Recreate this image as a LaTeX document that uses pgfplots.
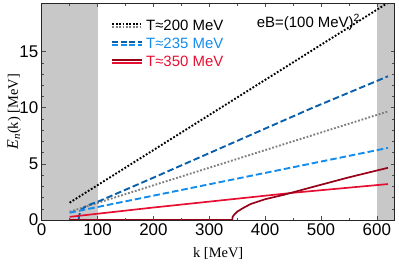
\documentclass[border=0pt]{standalone}
\usepackage{pgfplots}
\pgfplotsset{compat=1.18}
\usepackage{fontspec}
\setmainfont{Liberation Sans}
\newfontfamily\serif{Liberation Serif}
\definecolor{dblue}{RGB}{10,95,170}
\definecolor{lblue}{RGB}{20,140,235}
\definecolor{dred}{RGB}{150,0,25}
\definecolor{lred}{RGB}{230,15,50}
\definecolor{band}{RGB}{200,200,200}
\definecolor{dgray}{RGB}{128,128,128}
\begin{document}
\begin{tikzpicture}
\useasboundingbox (-41.7bp,-44bp) rectangle (357.3bp,220bp);
\begin{axis}[
  at={(0,0)}, anchor=origin,
  scale only axis, width=353bp, height=216.7bp,
  xmin=0, xmax=632, ymin=0, ymax=19.3,
  xtick={0,100,...,600}, ytick={0,5,10,15},
  minor x tick num=1, minor y tick num=4,
  tick align=inside, major tick length=4bp, minor tick length=2.5bp,
  axis on top,
  axis line style={line width=1pt, black!85},
  tick style={black!70, line width=0.5pt},
  tick label style={font=\fontsize{17}{17}\selectfont},
  /pgf/number format/assume math mode=true,
  xlabel={\serif k [MeV]},
  ylabel={\serif{\fontsize{16}{16}\selectfont\textit{E}}\raisebox{-0.35ex}{\fontsize{11}{11}\selectfont\textit{n}}(k) [MeV]},
  label style={font=\fontsize{14.5}{14.5}\selectfont},
  xlabel style={at={(axis description cs:0.5,0)}, anchor=base, yshift=-37bp},
  ylabel style={at={(axis description cs:0,0.5)}, anchor=center, rotate=0, yshift=27.5bp},
  legend style={at={(0.198,0.933)}, anchor=north west, draw=none, fill=none,
    font=\fontsize{15}{15}\selectfont, row sep=2bp, inner sep=0bp, outer sep=0bp,
    nodes={inner xsep=3bp}},
  legend cell align=left,
]
\addplot[fill=band, draw=none, forget plot] coordinates {(0,19.3) (100,19.3)} \closedcycle;
\addplot[fill=band, draw=none, forget plot] coordinates {(600,19.3) (632,19.3)} \closedcycle;

\addlegendimage{legend image code/.code={
  \draw[black, line width=1.8bp, dash pattern=on 1.8bp off 1.6bp] (0cm,1.5bp) -- (1.05cm,1.5bp);
  \draw[dgray, line width=1.8bp, dash pattern=on 1.8bp off 1.6bp] (0cm,-1.5bp) -- (1.05cm,-1.5bp);}}
\addlegendentry{T≈200 MeV}
\addlegendimage{legend image code/.code={
  \draw[dblue, line width=1.8bp, dash pattern=on 6bp off 2.5bp] (0cm,1.5bp) -- (1.05cm,1.5bp);
  \draw[lblue, line width=1.8bp, dash pattern=on 6bp off 2.5bp] (0cm,-1.5bp) -- (1.05cm,-1.5bp);}}
\addlegendentry{\textcolor{lblue}{T≈235 MeV}}
\addlegendimage{legend image code/.code={
  \draw[dred, line width=1.8bp] (0cm,1.5bp) -- (1.05cm,1.5bp);
  \draw[lred, line width=1.8bp] (0cm,-1.5bp) -- (1.05cm,-1.5bp);}}
\addlegendentry{\textcolor{lred}{T≈350 MeV}}

% T=200
\addplot[black, line width=1.9bp, dash pattern=on 1.8bp off 1.8bp, forget plot] coordinates {(50,1.54) (620,19.35)};
\addplot[dgray, line width=1.9bp, dash pattern=on 1.8bp off 1.8bp, forget plot] coordinates {(50,0.74) (620,9.67)};
% T=235
\addplot[dblue, line width=1.9bp, dash pattern=on 6.5bp off 3bp, forget plot] coordinates {
  (50,0) (66,0) (67,0.4) (69,0.7) (73,1.0) (80,1.25) (90,1.45) (100,1.62) (194,3.64) (482,9.93) (620,12.8)};
\addplot[lblue, line width=1.9bp, dash pattern=on 6.5bp off 3bp, forget plot] coordinates {(50,0.65) (620,6.42)};
% T=350
\addplot[lred, line width=1.7bp, forget plot] coordinates {(50,0.28) (194,1.08) (449,2.42) (620,3.2)};
\addplot[dred, line width=1.7bp, forget plot] coordinates {
  (50,0) (341,0) (342,0.3) (345,0.5) (350,0.74) (360,1.05) (374,1.42) (400,1.85) (434,2.25) (482,2.9) (550,3.8) (620,4.65)};

\node[anchor=west, font=\fontsize{15}{15}\selectfont, inner sep=0pt] at (axis cs:385,17.6) {eB=(100 MeV)\textsuperscript{2}};
\end{axis}
\end{tikzpicture}
\end{document}
